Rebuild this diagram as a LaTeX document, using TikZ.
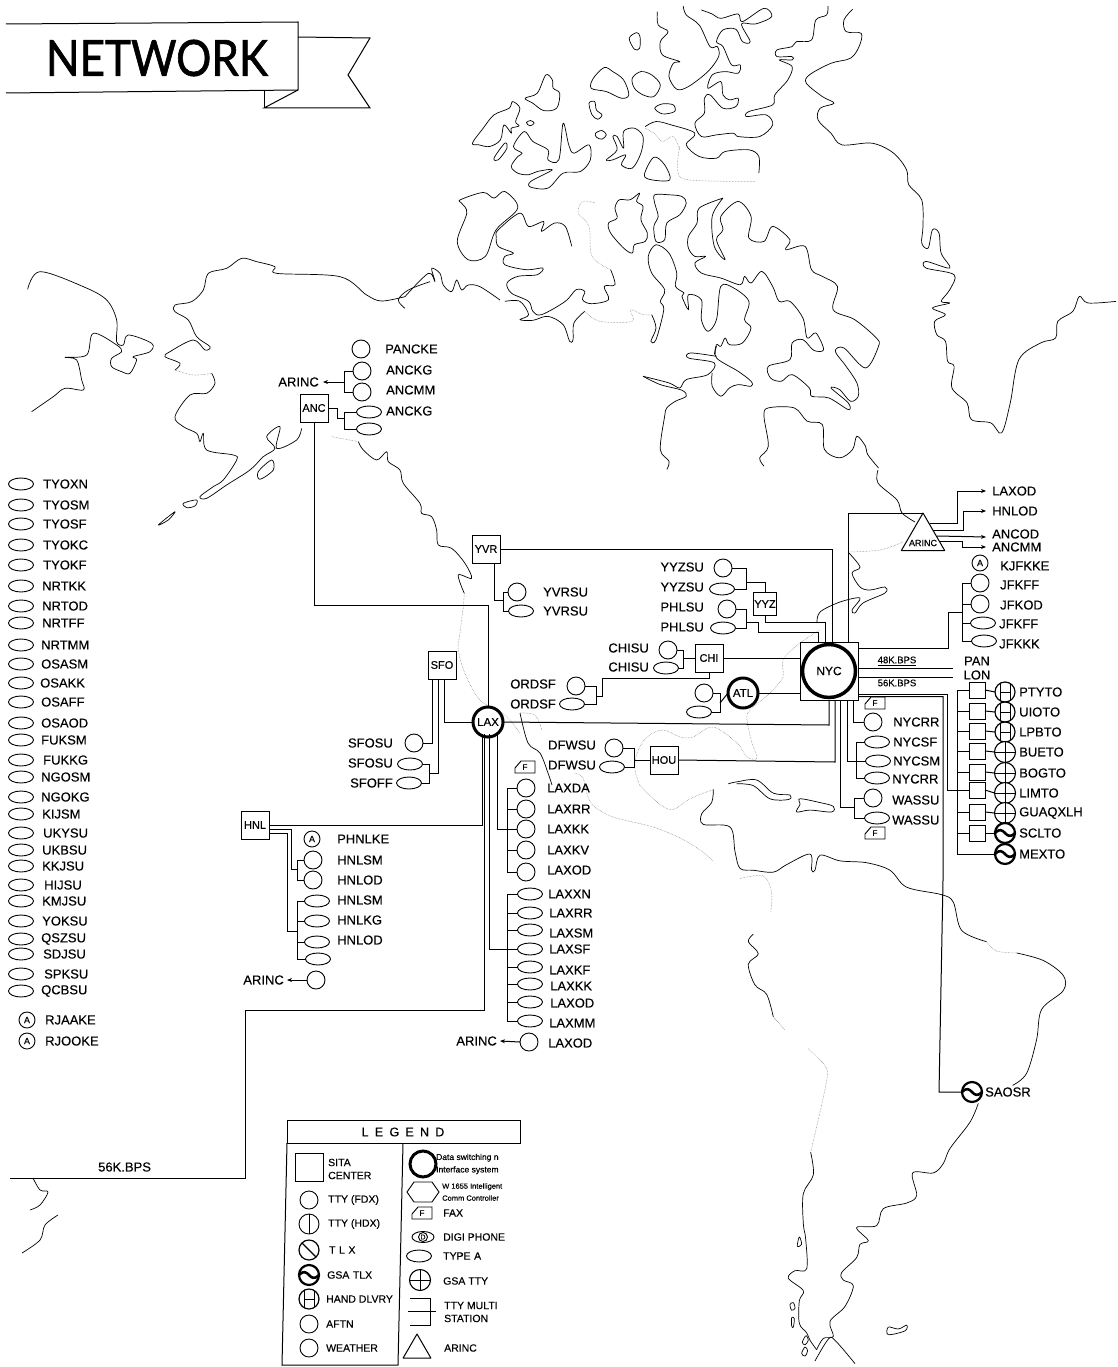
\documentclass[tikz,border=0pt]{standalone}
\usepackage{fontspec}
\setmainfont{Liberation Sans}[FakeBold=0.25]
\newfontfamily\bannerfont{Lato}[FakeBold=1.2,FakeStretch=.88]
\usetikzlibrary{calc, arrows.meta, positioning, shapes.geometric}
\tikzset{
  coast/.style={line width=.7pt, line join=round},
  fadecoast/.style={line width=.5pt, black!55, densely dotted},
  link/.style={line width=1pt},
  tip/.style={-{Stealth[length=5pt,width=4pt]}},
  lab/.style={anchor=west, inner sep=0pt, font=\fontsize{13}{15}\selectfont},
  labr/.style={lab, anchor=east},
  leg/.style={lab, align=left, font=\fontsize{10.5}{13}\selectfont},
  legs/.style={lab, align=left, font=\fontsize{8.5}{12.5}\selectfont},
  tty/.style={circle, draw, line width=.9pt, fill=white, minimum size=18pt, inner sep=0pt, outer sep=0pt},
  typea/.style={ellipse, draw, line width=.9pt, fill=white, minimum width=25pt, minimum height=12pt, inner sep=0pt, outer sep=0pt},
  aftn/.style={tty, minimum size=16pt, path picture={\node[font=\fontsize{9}{9}\selectfont] at (path picture bounding box.center) {A};}},
  hdx/.style={tty, minimum size=20pt, path picture={\draw[line width=.9pt] (path picture bounding box.north) -- (path picture bounding box.south);}},
  tlx/.style={tty, minimum size=20pt, line width=1.2pt, path picture={\draw[line width=1.2pt] (path picture bounding box.north west) -- (path picture bounding box.south east);}},
  gsatlx/.style={tty, minimum size=20pt, line width=2.2pt, path picture={\draw[line width=2.6pt] (path picture bounding box.west) .. controls (path picture bounding box.north) and (path picture bounding box.south) .. (path picture bounding box.east);}},
  hand/.style={tty, minimum size=20pt, line width=1.2pt, path picture={
      \draw[line width=1pt] ([shift={(-5,-10)}]path picture bounding box.center) -- ([shift={(-5,10)}]path picture bounding box.center);
      \draw[line width=1pt] ([shift={(5,-10)}]path picture bounding box.center) -- ([shift={(5,10)}]path picture bounding box.center);
      \draw[line width=1pt] ([xshift=-5pt]path picture bounding box.center) -- ([xshift=5pt]path picture bounding box.center);}},
  gsatty/.style={tty, minimum size=21pt, line width=1.1pt, path picture={
      \draw[line width=1pt] (path picture bounding box.north) -- (path picture bounding box.south);
      \draw[line width=1pt] (path picture bounding box.west) -- (path picture bounding box.east);}},
  sita/.style={rectangle, draw, line width=1pt, fill=white, minimum size=28pt, inner sep=0pt, outer sep=0pt,
    font=\fontsize{11}{11}\selectfont, path picture={
      \fill (path picture bounding box.north west) circle (4pt);
      \fill (path picture bounding box.north east) circle (4pt);
      \fill (path picture bounding box.south west) circle (4pt);
      \fill (path picture bounding box.south east) circle (4pt);}},
  dss/.style={circle, draw, line width=3pt, fill=white, minimum size=30pt, inner sep=0pt, outer sep=0pt, font=\fontsize{11.5}{11}\selectfont},
  faxtext/.style={inner sep=0pt, font=\fontsize{8}{8}\selectfont},
  digi/.style={typea, minimum width=22pt, minimum height=11pt, font=\fontsize{7}{7}\selectfont,
    path picture={\draw[line width=.9pt] (path picture bounding box.center) circle (4.5pt);}},
  arinc/.style={regular polygon, regular polygon sides=3, draw, line width=1pt, line join=round, fill=white, inner sep=0pt, outer sep=0pt},
}
% vertical bar at the x of #1, with a stub to each of the anchors in #2
\newcommand{\busbar}[2]{
  \foreach \n [remember=\n as \p (initially #1)] in {#2}{
    \draw[link] (\n) -- (\n -| #1) -- (\p -| #1);
  }
}
% fax symbol: name, position
\newcommand{\faxbox}[2]{
  \node[faxtext] (#1) at (#2) {F};
  \draw[line width=.9pt] ([shift={(-4,-6)}]#1.center) -- ([shift={(10,-6)}]#1.center) -- ([shift={(10,6)}]#1.center)
    -- ([shift={(-10,6)}]#1.center) -- ([shift={(-10,1)}]#1.center) -- cycle;
}
\begin{document}
\begin{tikzpicture}[x=1pt, y=-1pt]
  \useasboundingbox (0,0) rectangle (1118,1367);

  % banner
  \draw[line width=1pt] (6,24) -- (298,22) -- (298,90) -- (6,93);
  \draw[line width=1pt] (298,37) -- (370,38) -- (348,75) -- (370,108) -- (264,108) -- (298,90);
  \draw[line width=1pt] (264,90) -- (264,108);
  \node[font=\bannerfont\fontsize{50}{50}\selectfont, inner sep=0pt] (banner) at (157,58) {NETWORK};

  % map, upper part, read off at its own scale
  \begin{scope}[xshift=440pt, x=.432pt, y=-.333pt]
    \draw[coast] plot[smooth,tension=.55] coordinates {(955,28)(935,60)(940,95)(975,100)(970,140)(950,175)(905,190)(855,225)(848,250)(885,290)(912,310)(880,325)(875,360)(905,400)(930,435)(1000,430)(1050,460)(1080,510)(1085,555)(1115,600)(1118,680)(1115,730)(1130,745)(1140,690)(1155,700)(1160,760)(1180,805)(1125,785)(1125,805)(1190,825)(1180,870)(1160,905)(1180,910)(1140,925)(1170,945)(1145,965)(1150,1005)(1170,1025)(1175,1085)(1190,1100)(1185,1165)(1220,1210)(1230,1260)(1275,1270)(1300,1300)(1320,1210)(1340,1080)(1390,1030)(1425,1015)(1430,965)(1465,935)(1480,890)(1500,910)(1565,905)};
    \draw[coast] plot[smooth,tension=.55] coordinates {(563,18)(570,45)(600,75)(625,140)(642,140)(645,170)(620,215)(575,260)(548,268)(530,230)(540,190)(555,185)(515,165)(510,125)(528,95)(505,75)(503,35)};
    \draw[coast] plot[smooth,tension=.55] coordinates {(605,30)(630,42)(650,55)(690,42)(700,65)(750,25)(768,50)(730,72)(698,72)(718,125)(700,125)(685,88)(655,90)(640,125)(655,140)(675,195)(695,195)(690,220)(660,215)(630,225)(620,265)(650,245)(655,285)(670,300)(690,295)(685,320)(655,325)(625,285)(612,295)(612,340)(590,370)(605,410)(640,405)(680,400)(690,410)(740,410)(770,375)(755,345)(710,350)(715,335)(770,315)(775,285)(805,240)(815,200)(785,180)(815,180)(815,170)(780,170)(780,150)(815,140)(825,125)(860,120)(870,60)(895,45)(898,18)};
    \draw[coast] plot[smooth cycle,tension=.55] coordinates {(438,115)(455,98)(463,110)(462,145)(450,148)};
    \draw[coast] plot[smooth cycle,tension=.55] coordinates {(350,265)(355,235)(380,203)(400,215)(425,240)(437,285)(420,295)(385,275)};
    \draw[coast] plot[smooth cycle,tension=.55] coordinates {(445,235)(465,215)(490,225)(510,255)(495,290)(470,285)(450,265)};
    \draw[coast] plot[smooth cycle,tension=.55] coordinates {(497,325)(515,312)(540,315)(543,335)(515,342)};
    \draw[coast] plot[smooth cycle,tension=.55] coordinates {(345,310)(358,305)(362,330)(375,345)(365,358)(352,345)};
    \draw[coast] plot[smooth cycle,tension=.55] coordinates {(360,400)(375,392)(385,405)(375,418)(362,412)};
    \draw[coast] plot[smooth cycle,tension=.55] coordinates {(200,368)(210,362)(218,370)(208,378)};
    \draw[coast] plot[smooth cycle,tension=.55] coordinates {(75,430)(100,385)(125,345)(160,325)(168,305)(185,325)(175,365)(183,378)(165,385)(165,400)(148,375)(140,420)(115,440)(90,435)};
    \draw[coast] plot[smooth cycle,tension=.55] coordinates {(197,295)(225,280)(245,225)(260,240)(262,265)(277,280)(270,325)(240,332)(215,310)};
    \draw[coast] plot[smooth cycle,tension=.55] coordinates {(165,500)(180,470)(190,460)(170,440)(195,395)(215,425)(250,450)(250,480)(275,480)(285,370)(298,435)(310,460)(345,435)(348,480)(325,515)(285,520)(250,565)(210,562)(210,545)(260,510)(225,515)(205,525)(180,520)};
    \draw[coast] plot[smooth cycle,tension=.55] coordinates {(125,475)(150,430)(155,445)(135,480)};
    \draw[coast] plot[smooth cycle,tension=.55] coordinates {(385,480)(410,450)(400,410)(410,410)(425,445)(425,395)(450,385)(470,410)(465,460)(445,505)(420,495)(430,465)(400,480)};
    \draw[coast] plot[smooth cycle,tension=.55] coordinates {(473,525)(495,472)(520,495)(532,540)(490,540)};
    \draw[coast] plot[smooth,tension=.55] coordinates {(475,380)(500,365)(535,375)(590,400)(570,435)(600,470)(640,475)(660,455)(715,450)(738,470)(738,520)};
    \draw[fadecoast] plot[smooth,tension=.55] coordinates {(555,440)(550,510)(575,540)(730,545)};
    \draw[fadecoast] plot[smooth,tension=.55] coordinates {(475,385)(495,400)(515,425)(540,410)(555,450)};
    \draw[coast] plot[smooth cycle,tension=.55] coordinates {(47,600)(100,578)(125,595)(150,575)(180,625)(130,690)(105,770)(65,780)(40,725)(62,640)(50,610)};
    \draw[coast] plot[smooth,tension=.55] coordinates {(305,740)(290,680)(265,670)(235,695)(240,665)(205,680)(185,640)(135,690)(130,710)(135,740)(170,760)(150,770)(150,795)(200,810)(238,805)(225,825)(180,830)(155,850)(165,880)(205,905)(215,935)(235,945)(290,905)(315,870)(335,875)(330,900)(350,912)(390,900)(380,860)(405,855)(395,810)};
    \draw[fadecoast] plot[smooth,tension=.55] coordinates {(395,810)(352,770)(345,680)(320,640)(330,605)(360,610)};
    \draw[coast] plot[smooth,tension=.55] coordinates {(150,905)(185,905)(205,945)(185,960)(215,962)(250,950)(285,975)(300,1025)(308,1020)(310,970)(335,935)};
    \draw[fadecoast] plot[smooth,tension=.55] coordinates {(335,935)(370,965)(445,965)(440,930)(470,945)(490,945)};
    \draw[coast] plot[smooth,tension=.55] coordinates {(490,945)(500,985)(488,1025)(500,1020)(518,930)(510,905)(520,870)(490,820)(482,770)(500,735)(530,760)(548,820)(545,860)(565,880)(560,890)(575,930)(575,885)(605,900)(605,960)(620,995)(640,960)(650,860)(680,865)(715,905)(705,960)(720,985)(700,1030)(670,1035)(660,1015)(650,1040)(640,1035)(635,1065)};
    \draw[coast] plot[smooth cycle,tension=.55] coordinates {(415,600)(440,600)(462,580)(455,605)(470,620)(465,660)(480,700)(475,725)(450,735)(445,760)(425,745)(395,700)(390,670)(410,655)(405,625)};
    \draw[coast] plot[smooth cycle,tension=.55] coordinates {(497,585)(530,585)(560,590)(570,610)(555,645)(525,670)(520,720)(500,725)(495,680)(505,650)(497,610)};
    \draw[coast] plot[smooth,tension=.55] coordinates {(655,595)(600,625)(595,670)(575,710)(575,745)(590,770)(615,770)(590,790)(605,820)(650,835)(695,855)(705,830)(720,850)(745,815)(770,860)(785,905)(810,905)(840,955)(850,1015)(870,1000)(888,1050)(865,1052)(840,1020)(815,1030)(810,1080)(760,1100)(765,1135)(790,1145)(815,1125)(855,1165)(860,1190)(900,1195)(945,1230)(945,1210)(905,1165)(925,1170)(950,1205)(968,1190)(965,1150)(940,1100)(915,1055)(935,1045)(985,1105)(1015,1040)(1010,1015)(960,960)(910,930)(920,860)(885,830)(860,810)(845,740)(800,750)(810,720)(770,680)(750,725)(715,715)(720,650)(690,605)(650,650)(655,690)(640,720)(660,780)(635,740)(630,650)(655,595)};
    \draw[coast] plot[smooth,tension=.55] coordinates {(470,1130)(530,1150)(555,1165)(570,1140)(620,1125)(635,1090)(575,1075)(580,1060)(640,1070)};
    \draw[coast] plot[smooth,tension=.55] coordinates {(640,1040)(640,1075)(690,1115)(720,1145)(720,1160)(690,1155)(670,1165)(650,1190)(630,1160)(630,1120)};
    \draw[coast] plot[smooth,tension=.55] coordinates {(470,1130)(510,1155)(560,1172)(570,1190)(545,1205)(525,1225)(520,1250)(510,1350)(530,1385)(525,1410)};
    \draw[coast] plot[smooth,tension=.55] coordinates {(750,1400)(740,1375)(760,1340)(750,1250)(760,1225)(820,1225)(850,1265)(885,1275)(890,1350)(925,1375)(955,1350)(965,1310)(985,1340)(990,1365)(1015,1405)};
  \end{scope}

  % Alaska and Siberia
  \begin{scope}[yshift=-240pt, x=.3333pt, y=-.3333pt]
    \draw[coast] plot[smooth,tension=.55] coordinates {(83,148)(120,95)(250,140)(320,180)(350,240)(350,305)(370,315)(385,285)(455,310)(450,335)(400,350)(410,360)(390,400)(365,395)(335,380)(335,355)(365,335)(350,315)(280,280)(260,345)(195,352)(230,360)(245,420)(250,450)(195,445)(160,470)(95,515)};
    \draw[coast] plot[smooth,tension=.55] coordinates {(1215,170)(1145,183)(1100,165)(1020,110)(830,100)(825,80)(770,65)(725,55)(680,85)(625,100)(610,150)(575,185)(525,195)(525,215)(565,240)(590,290)(630,320)(615,330)(580,300)(510,335)(495,350)(540,370)(525,390)};
    \draw[fadecoast] plot[smooth,tension=.55] coordinates {(525,390)(580,405)(635,400)};
    \draw[coast] plot[smooth,tension=.55] coordinates {(635,400)(645,430)(620,460)(570,465)(525,530)(550,560)(590,580)(600,605)(610,580)(620,630)(700,645)(710,660)(670,720)(640,740)(600,770)(620,775)(680,735)(750,690)(790,650)(825,625)(800,590)(840,560)(830,625)(890,600)(905,565)};
    \draw[coast] plot[smooth cycle,tension=.55] coordinates {(775,695)(815,660)(820,690)(780,718)};
    \draw[coast] plot[smooth cycle,tension=.55] coordinates {(550,790)(590,780)(585,798)(560,803)};
    \draw[coast] plot[smooth cycle,tension=.55] coordinates {(475,855)(525,815)(505,840)};
    \draw[coast] plot[smooth,tension=.55] coordinates {(1215,170)(1285,100)(1305,125)(1295,85)(1320,100)(1330,135)(1355,155)(1370,120)(1385,150)(1405,135)(1440,140)(1500,180)};
    \draw[coast] plot[smooth,tension=.55] coordinates {(1215,205)(1195,180)(1225,150)(1290,125)};
    \draw[fadecoast] plot[smooth,tension=.55] coordinates {(995,590)(1075,605)};
    \draw[coast] plot[smooth,tension=.55] coordinates {(1075,605)(1090,630)(1130,660)(1160,635)(1165,665)(1200,690)(1210,730)(1260,790)(1265,820)(1295,830)(1310,870)(1315,915)(1355,925)(1395,970)(1415,1015)(1375,1005)(1393,1060)};
    \draw[fadecoast] plot[smooth,tension=.55] coordinates {(1393,1060)(1390,1100)(1380,1180)(1375,1230)(1395,1300)(1440,1380)(1515,1425)(1560,1480)};
  \end{scope}

  % middle part of the coasts
  \draw[fadecoast] plot[smooth,tension=.55] coordinates {(520,713)(535,715)(542,730)};
  \draw[coast] plot[smooth,tension=.55] coordinates {(520,713)(528,743)(540,753)(548,773)(552,785)};
  \draw[fadecoast] plot[smooth,tension=.55] coordinates {(575,773)(583,778)(588,797)(595,807)(613,817)(653,827)(680,838)(700,850)(713,861)};
  \draw[fadecoast] plot[smooth,tension=.55] coordinates {(640,786)(635,770)(637,753)(647,737)(663,730)(680,737)(693,737)(713,727)(737,743)(747,757)(757,758)(752,743)(747,720)(750,710)(770,693)(783,677)(783,660)(800,643)(820,630)};
  \draw[coast] plot[smooth,tension=.55] coordinates {(878,470)(878,483)(897,500)(902,513)(915,522)};
  \draw[fadecoast] plot[smooth,tension=.55] coordinates {(903,542)(880,550)(848,552)};
  \draw[coast] plot[smooth,tension=.55] coordinates {(848,552)(860,567)(852,573)(860,587)(870,590)(885,587)(885,593)(863,603)(855,613)(852,610)(860,598)(840,602)(820,612)(817,623)};

  % Central and South America
  \begin{scope}[xshift=640pt, yshift=-780pt, x=.3333pt, y=-.376pt]
    \draw[fadecoast] plot[smooth,tension=.55] coordinates {(0,15)(60,65)(100,78)(150,50)(220,25)};
    \draw[coast] plot[smooth,tension=.55] coordinates {(220,25)(215,60)(185,90)(190,118)(270,125)(285,190)(300,235)(340,240)(400,245)(440,225)(510,197)(515,240)(525,240)(540,200)(600,215)(680,220)(750,240)(800,285)(905,305)(940,325)(965,400)(1040,430)};
    \draw[fadecoast] plot[smooth,tension=.55] coordinates {(1040,430)(1070,455)(1130,460)};
    \draw[coast] plot[smooth,tension=.55] coordinates {(1130,460)(1210,480)(1270,520)(1270,560)(1205,610)(1190,690)(1160,780)(1118,812)};
    \draw[coast] plot[smooth,tension=.55] coordinates {(1015,860)(990,910)(930,980)(910,1020)(880,1045)(818,1045)(830,1105)(800,1125)(730,1140)(710,1185)(650,1190)(685,1225)(660,1235)(650,1270)(605,1310)(610,1330)(640,1345)(615,1400)(570,1440)(580,1480)(550,1485)(530,1515)};
    \draw[coast] plot[smooth,tension=.55] coordinates {(340,410)(325,430)(355,462)(325,490)(345,545)(380,570)(400,630)};
    \draw[fadecoast] plot[smooth,tension=.55] coordinates {(400,630)(435,665)};
    \draw[fadecoast] plot[smooth,tension=.55] coordinates {(505,715)(555,760)(560,800)(520,960)(512,990)};
    \draw[coast] plot[smooth,tension=.55] coordinates {(512,990)(520,1050)(490,1100)(490,1180)(497,1220)(500,1300)(465,1305)(445,1325)(490,1358)(478,1385)(478,1445)(500,1470)(510,1490)(530,1515)};
    \draw[coast] plot[smooth,tension=.55] coordinates {(525,1545)(565,1487)(585,1490)(645,1552)};
    \draw[fadecoast] plot[smooth,tension=.55] coordinates {(300,262)(370,255)(395,300)(392,352)};
    \draw[coast] plot[smooth cycle,tension=.55] coordinates {(478,1215)(472,1240)(485,1235)};
    \draw[coast] plot[smooth cycle,tension=.55] coordinates {(450,1395)(460,1390)(465,1405)(455,1410)};
    \draw[coast] plot[smooth cycle,tension=.55] coordinates {(455,1430)(463,1432)(460,1455)(455,1452)};
    \draw[coast] plot[smooth cycle,tension=.55] coordinates {(487,1495)(498,1478)(505,1490)(495,1502)};
    \draw[coast] plot[smooth cycle,tension=.55] coordinates {(485,1525)(495,1508)(503,1518)(495,1532)};
    \draw[coast] plot[smooth,tension=.55] coordinates {(265,10)(290,5)(350,0)(400,35)(450,40)(445,52)(390,50)(340,15)(290,10)};
    \draw[coast] plot[smooth cycle,tension=.55] coordinates {(480,50)(540,60)(580,70)(575,85)(510,80)(470,85)(480,65)};
    \draw[coast] plot[smooth cycle,tension=.55] coordinates {(745,1455)(775,1460)(800,1450)(795,1465)(745,1475)};
  \end{scope}

  % New Zealand
  \draw[coast] plot[smooth,tension=.55] coordinates {(33,1178)(40,1190)(48,1192)(40,1205)(30,1210)};
  \draw[coast] plot[smooth,tension=.55] coordinates {(58,1215)(45,1225)(40,1240)(22,1253)};

  % left hand list
  \foreach \code/\yy/\lx [count=\i] in {TYOXN/484/43, TYOSM/505/43, TYOSF/524/43, TYOKC/545/43, TYOKF/565/43,
      NRTKK/586/42, NRTOD/606/42, NRTFF/623/42, NRTMM/645/41, OSASM/664/41, OSAKK/683/40, OSAFF/702/41,
      OSAOD/723/41, FUKSM/740/41, FUKKG/760/43, NGOSM/777/41, NGOKG/797/41, KIJSM/814/42, UKYSU/833/43,
      UKBSU/850/42, KKJSU/866/42, HIJSU/885/44, KMJSU/901/42, YOKSU/921/42, QSZSU/939/41, SDJSU/954/43,
      SPKSU/974/44, QCBSU/991/41}{
    \node[typea] (far\i) at (21,\yy) {};
    \node[lab] (farlab\i) at (\lx,\yy) {\code};
  }
  \node[aftn] (rjaa) at (27,1020) {};
  \node[lab] (rjaalab) at (45,1020) {RJAAKE};
  \node[aftn] (rjoo) at (27,1041) {};
  \node[lab] (rjoolab) at (45,1041) {RJOOKE};

  % centers
  \node[sita] (anc) at (314,408) {ANC};
  \node[sita] (yvr) at (486,549) {YVR};
  \node[sita, minimum size=23pt] (yyz) at (765,604) {YYZ};
  \node[sita] (chi) at (709,658) {CHI};
  \node[sita] (sfo) at (442,665) {SFO};
  \node[sita] (hnl) at (255,825) {HNL};
  \node[sita] (hou) at (664,760) {HOU};
  \node[dss] (atl) at (743,693) {ATL};
  \node[dss] (lax) at (488,722) {LAX};
  \node[sita, minimum size=58pt] (nyc) at (829,671) {};
  \node[dss, minimum size=53pt, line width=3.5pt, font=\fontsize{12}{12}\selectfont] (nycring) at (nyc) {NYC};

  % terminals with the label on the right
  \foreach \nm/\kind/\cx/\cy/\lx/\ly/\code in {
      pancke/tty/361/349/385/349/PANCKE, anckgA/tty/362/371/386/370/ANCKG, ancmmA/tty/362/392/386/390/ANCMM, anckgB/typea/369/412/386/411/ANCKG,
      yvrA/tty/517/592/543/592/YVRSU, yvrB/typea/521/611/543/611/YVRSU,
      phnlke/aftn/312/839/337/839/PHNLKE, hnlsmA/tty/313/860/337/860/HNLSM, hnlodA/tty/313/880/337/880/HNLOD,
      hnlsmB/typea/317/901/337/900/HNLSM, hnlkgB/typea/317/921/337/920/HNLKG, hnlodB/typea/317/942/337/940/HNLOD,
      laxda/tty/526/788/547/788/LAXDA, laxrrA/tty/526/809/547/809/LAXRR, laxkkA/tty/526/829/547/829/LAXKK, laxkv/tty/526/850/547/850/LAXKV, laxodA/tty/526/872/547/870/LAXOD,
      laxxn/typea/530/894/548/894/LAXXN, laxrrB/typea/530/913/549/913/LAXRR, laxsm/typea/530/930/549/933/LAXSM, laxsf/typea/530/949/549/949/LAXSF,
      laxkf/typea/530/967/549/970/LAXKF, laxkkB/typea/530/984/550/986/LAXKK, laxodB/typea/530/1002/550/1003/LAXOD, laxmm/typea/530/1021/549/1023/LAXMM,
      laxodC/tty/529/1042/548/1043/LAXOD,
      nycrrA/tty/873/722/893/722/NYCRR, nycsf/typea/877/742/893/742/NYCSF, nycsm/typea/878/761/893/761/NYCSM, nycrrB/typea/877/778/892/779/NYCRR,
      wassuA/tty/873/798/892/800/WASSU, wassuB/typea/877/818/892/820/WASSU,
      kjfkke/aftn/980/563/1000/566/KJFKKE, jfkffA/tty/980/583/1000/585/JFKFF, jfkod/tty/980/604/1000/605/JFKOD, jfkffB/typea/983/623/999/624/JFKFF, jfkkk/typea/984/641/999/644/JFKKK,
      saosr/gsatlx/972/1092/985/1092/SAOSR}{
    \node[\kind] (\nm) at (\cx,\cy) {};
    \node[lab] (lab\nm) at (\lx,\ly) {\code};
  }
  \node[typea] (ancspare) at (369,429) {};
  \node[typea] (hnlspare) at (318,959) {};
  \node[tty] (hnlar) at (316,980) {};

  % terminals with the label on the left
  \foreach \nm/\kind/\cx/\cy/\ly/\code in {
      yyzA/tty/723/568/567/YYZSU, yyzB/typea/722/589/587/YYZSU, phlA/tty/727/609/607/PHLSU, phlB/typea/723/628/627/PHLSU}{
    \node[\kind] (\nm) at (\cx,\cy) {};
    \node[labr] (lab\nm) at (704,\ly) {\code};
  }
  \foreach \nm/\kind/\cx/\cy/\ly/\code in {chiA/tty/668/650/648/CHISU, chiB/typea/666/668/667/CHISU}{
    \node[\kind] (\nm) at (\cx,\cy) {};
    \node[labr] (lab\nm) at (649,\ly) {\code};
  }
  \foreach \nm/\kind/\cx/\cy/\ly/\code in {ordA/tty/576/686/684/ORDSF, ordB/typea/572/704/704/ORDSF}{
    \node[\kind] (\nm) at (\cx,\cy) {};
    \node[labr] (lab\nm) at (556,\ly) {\code};
  }
  \foreach \nm/\kind/\cx/\cy/\ly/\code in {dfwA/tty/614/748/745/DFWSU, dfwB/typea/612/767/765/DFWSU}{
    \node[\kind] (\nm) at (\cx,\cy) {};
    \node[labr] (lab\nm) at (596,\ly) {\code};
  }
  \foreach \nm/\kind/\cx/\cy/\ly/\code in {sfoA/tty/414/743/743/SFOSU, sfoB/typea/410/764/763/SFOSU, sfoC/typea/409/783/783/SFOFF}{
    \node[\kind] (\nm) at (\cx,\cy) {};
    \node[labr] (lab\nm) at (393,\ly) {\code};
  }
  \node[tty] (atlA) at (704,693) {};
  \node[typea] (atlB) at (699,712) {};

  % ARINC ends
  \node[labr] (ar1) at (319,382) {ARINC};
  \node[labr] (ar2) at (284,980) {ARINC};
  \node[labr] (ar3) at (497,1041) {ARINC};
  \draw[link, tip] (hnlar.west) -- ([xshift=3pt]ar2.east);
  \draw[link, tip] (laxodC.west) -- ([xshift=3pt]ar3.east);

  % fax
  \faxbox{faxlax}{525,767}
  \faxbox{faxnyc}{875,703}
  \faxbox{faxwas}{875,833}

  % right hand column
  \coordinate (busright) at (957,700);
  \foreach \code/\yb/\yc/\kind [count=\i] in {PTYTO/690/692/hand, UIOTO/711/712/hand, LPBTO/731/732/hand, BUETO/751/752/gsatty,
      BOGTO/772/773/gsatty, LIMTO/790/793/gsatty, GUAQXLH/812/813/gsatty, SCLTO/833/833/gsatlx}{
    \node[sita, minimum size=16pt] (box\i) at (977,\yb) {};
    \node[\kind] (sym\i) at (1005,\yc) {};
    \node[lab] (labsym\i) at (1019,\yc) {\code};
    \draw[link] (box\i.east) -- (sym\i.west);
    \draw[link] (box\i.west) -- (box\i.west -| busright);
  }
  \node[gsatlx] (sym9) at (1005,854) {};
  \node[lab] (labsym9) at (1019,854) {MEXTO};
  \draw[link] (box1.west -| busright) -- (sym9.west -| busright) -- (sym9.west);
  \node[font=\fontsize{13}{13}\selectfont, inner sep=0pt] (pan) at (977,661) {PAN};
  \node[font=\fontsize{13}{13}\selectfont, inner sep=0pt] (lon) at (977,675) {LON};

  % ARINC triangle
  \node[arinc, minimum size=50pt] (tri) at (923,538) {};
  \node[font=\fontsize{9}{9}\selectfont, inner sep=0pt] (trilab) at (923,543) {ARINC};
  \coordinate (triA) at (930,523);
  \coordinate (triB) at (933,530);
  \coordinate (triC) at (937,536);
  \coordinate (triD) at (940,541);
  \node[lab] (outA) at (992,491) {LAXOD};
  \node[lab] (outB) at (992,511) {HNLOD};
  \node[lab] (outC) at (992,534) {ANCOD};
  \node[lab] (outD) at (992,547) {ANCMM};
  \draw[link, tip] (triA) -| ($(outA.west)+(-35,0)$) -- ([xshift=-6pt]outA.west);
  \draw[link, tip] (triB) -| ($(outB.west)+(-29,0)$) -- ([xshift=-6pt]outB.west);
  \draw[link, tip] (triC) -- ([xshift=-6pt,yshift=-3pt]outC.west);
  \draw[link, tip] (triD) -| ($(outD.west)+(-30,0)$) -- ([xshift=-6pt]outD.west);
  \draw[link] (tri.corner 1) -| ([xshift=19pt]nyc.north);

  % buses
  \coordinate (busancA) at (344,382);
  \busbar{busancA}{anckgA.west,ancmmA.west}
  \draw[link, tip] (busancA) -- ([xshift=4pt]ar1.east);
  \coordinate (busancB) at (344,418);
  \busbar{busancB}{anckgB.west,ancspare.west}
  \draw[link] (anc.east) -- ++(9,0) |- (busancB);
  \coordinate (turnanc) at (488,605);
  \draw[link] (anc.south) |- (turnanc) -- (lax.north);

  \coordinate (busyvr) at (503,600);
  \busbar{busyvr}{yvrA.west,yvrB.west}
  \draw[link] ([xshift=8pt]yvr.south) |- (busyvr);
  \draw[link] (yvr.east) -| ([xshift=3pt]nyc.north);

  \coordinate (busyyz) at (746,582);
  \busbar{busyyz}{yyzA.east,yyzB.east}
  \draw[link] (busyyz) -| (yyz.north);
  \coordinate (busphl) at (746,622);
  \busbar{busphl}{phlA.east,phlB.east}
  \coordinate (turnphlA) at (758,622);
  \coordinate (turnphlB) at (818,632);
  \draw[link] (busphl) -- (turnphlA) |- (turnphlB) -- ([xshift=-11pt]nyc.north);
  \coordinate (turnyyz) at (825,622);
  \draw[link] (yyz.south) |- (turnyyz) -- ([xshift=-4pt]nyc.north);

  \coordinate (buschi) at (683,658);
  \busbar{buschi}{chiA.east,chiB.east}
  \draw[link] (buschi) -- (chi.west);
  \draw[link] (chi.east) -- (chi.east -| nyc.west);
  \coordinate (busord) at (596,696);
  \busbar{busord}{ordA.east,ordB.east}
  \coordinate (turnchiA) at (709,678);
  \coordinate (turnchiB) at (602,678);
  \draw[link] (chi.south) -- (turnchiA) -- (turnchiB) |- (busord);

  \coordinate (busatl) at (720,703);
  \busbar{busatl}{atlA.east,atlB.east}
  \draw[link] (busatl) -- (atl.west);
  \draw[link] (atl.east) -- (atl.east -| nyc.west);

  \coordinate (busdfw) at (634,760);
  \busbar{busdfw}{dfwA.east,dfwB.east}
  \draw[link] (busdfw) -- (hou.west);
  \coordinate (turnhou) at (835,762);
  \draw[link] (hou.east) -- (turnhou) -- ([xshift=6pt]nyc.south);

  \coordinate (turnlaxnyc) at (829,725);
  \draw[link] (lax.east) -- (turnlaxnyc) -- (nyc.south);

  % NYC south and east
  \draw[link] ([xshift=24pt]nyc.south) |- (nycrrA.west);
  \coordinate (busnyc) at (856,761);
  \busbar{busnyc}{nycsf.west,nycsm.west,nycrrB.west}
  \draw[link] ([xshift=18pt]nyc.south) |- (busnyc);
  \coordinate (buswas) at (854,807);
  \busbar{buswas}{wassuA.west,wassuB.west}
  \draw[link] ([xshift=11pt]nyc.south) |- (buswas);

  \coordinate (busjfk) at (962,612);
  \busbar{busjfk}{jfkffA.west,jfkod.west,jfkffB.west,jfkkk.west}
  \coordinate (turnjfk) at (948,612);
  \draw[link] ([yshift=23pt]nyc.east) -| (turnjfk) -- (busjfk);
  \coordinate (end48) at (953,668);
  \coordinate (end56) at (953,677);
  \draw[line width=1pt] (nyc.east |- end48) -- (end48);
  \draw[line width=1pt] (nyc.east |- end56) -- (end56);
  \node[font=\fontsize{9.5}{10}\selectfont, inner sep=0pt] (lab48) at (897,661) {\underline{48K.BPS}};
  \node[font=\fontsize{9.5}{10}\selectfont, inner sep=0pt] (lab56) at (897,683) {56K.BPS};
  \coordinate (turnlim) at (947,790);
  \draw[link] ([yshift=-23pt]nyc.east) -| (turnlim) -- (box6.west);
  \coordinate (turnsaoA) at (943,880);
  \coordinate (turnsaoB) at (939,1092);
  \draw[link] ([yshift=-25.5pt]nyc.east) -| (turnsaoA) -- (turnsaoB) -- (saosr.west);

  % SFO
  \draw[link] ([xshift=-10pt]sfo.south) |- (sfoA.east);
  \coordinate (bussfo) at (429,773);
  \busbar{bussfo}{sfoB.east,sfoC.east}
  \draw[link] ([xshift=-4pt]sfo.south) |- (bussfo);
  \coordinate (turnsfo) at (444,722);
  \draw[link] ([xshift=2pt]sfo.south) -- (turnsfo) -- (lax.west);

  % LAX south
  \coordinate (buslaxA) at (507,829);
  \busbar{buslaxA}{laxda.west,laxrrA.west,laxkkA.west,laxkv.west,laxodA.west}
  \coordinate (buslaxB) at (507,949);
  \busbar{buslaxB}{laxxn.west,laxrrB.west,laxsm.west,laxsf.west,laxkf.west,laxkkB.west,laxodB.west,laxmm.west}
  \draw[link] ([shift={(9,-3)}]lax.south) |- (buslaxA);
  \draw[link] ([shift={(1,-3)}]lax.south) |- (buslaxB);
  \draw[link] (hnl.east) -| ([shift={(-6,-3)}]lax.south);
  \coordinate (turn56A) at (245,1010);
  \coordinate (turn56B) at (245,1178);
  \coordinate (end56K) at (10,1178);
  \draw[link] ([shift={(-4,-3)}]lax.south) |- (turn56A) -- (turn56B) -- (end56K);
  \node[lab] (lab56K) at (98,1167) {56K.BPS};

  % HNL
  \coordinate (bushnlA) at (297,869);
  \busbar{bushnlA}{hnlsmA.west,hnlodA.west}
  \coordinate (turnhnlA) at (291,869);
  \draw[link] ([yshift=-4pt]hnl.east) -| (turnhnlA) -- (bushnlA);
  \coordinate (bushnlB) at (297,931);
  \busbar{bushnlB}{hnlsmB.west,hnlkgB.west,hnlodB.west,hnlspare.west}
  \coordinate (turnhnlB) at (287,931);
  \draw[link] ([yshift=-8pt]hnl.east) -| (turnhnlB) -- (bushnlB);

  % legend frame
  \draw[line width=1pt] (287,1120) rectangle (520,1143);
  \draw[line width=1pt] (287,1143) -- (282,1365) -- (398,1365) -- (403,1143);
  \node[font=\fontsize{12.5}{12}\selectfont, inner sep=0pt] (legtitle) at (403,1132) {L\enspace E\enspace G\enspace E\enspace N\enspace D};
  \node[sita] (legsita) at (309,1167) {};
  \node[leg] (legsitalab) at (328,1169) {SITA\\CENTER};
  \foreach \kind/\cy/\lx/\code [count=\i] in {tty/1200/328/TTY (FDX), hdx/1224/328/TTY (HDX), tlx/1250/329/T\,\,L\,\,X,
      gsatlx/1275/327/GSA\,\,TLX, hand/1299/326/HAND DLVRY, tty/1324/326/AFTN, tty/1348/326/WEATHER}{
    \node[\kind] (legl\i) at (309,\cy) {};
    \node[leg] (leglab\i) at (\lx,\cy) {\code};
  }
  \node[dss, minimum size=26pt] (legdss) at (423,1164) {};
  \node[legs] (legdsslab) at (436,1164) {Data switching n\\Interface system};
  \draw[line width=.9pt] (407,1192) -- (414,1182) -- (432,1182) -- (439,1192) -- (432,1202) -- (414,1202) -- cycle;
  \node[legs, font=\fontsize{7.5}{12}\selectfont] (legwlab) at (442,1192) {W 1655 Intelligent\\Comm Controller};
  \faxbox{legfax}{422,1213}
  \node[leg] (legfaxlab) at (443,1213) {FAX};
  \node[digi] (legdigi) at (423,1237) {D};
  \node[leg] (legdigilab) at (443,1237) {DIGI PHONE};
  \node[typea] (legtype) at (419,1256) {};
  \node[leg] (legtypelab) at (443,1256) {TYPE\,\,A};
  \node[gsatty] (leggsa) at (420,1280) {};
  \node[leg] (leggsalab) at (443,1281) {GSA TTY};
  \draw[line width=1pt] (410,1298) -- (430,1298) -- (430,1325) -- (410,1325);
  \draw[line width=1pt] (408,1311) -- (436,1311);
  \node[leg] (legmulti) at (444,1312) {TTY MULTI\\STATION};
  \node[arinc, fill=none, minimum size=32pt] (legtri) at (417,1350) {};
  \node[leg] (legtrilab) at (444,1348) {ARINC};
\end{tikzpicture}
\end{document}
